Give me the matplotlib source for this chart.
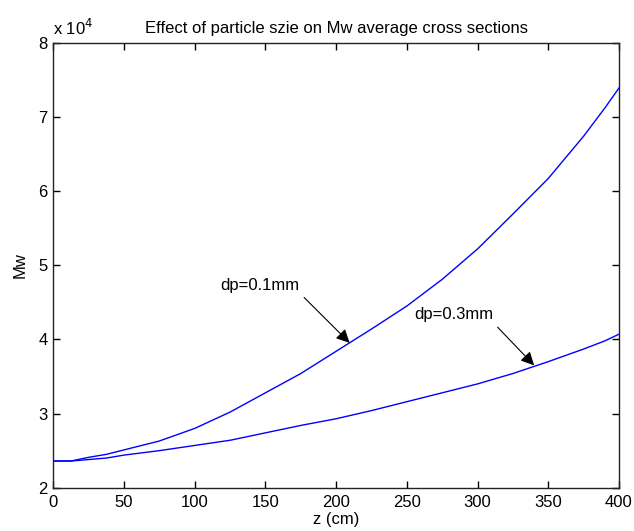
import matplotlib
matplotlib.use("Agg")
import matplotlib.pyplot as plt
from matplotlib.ticker import FuncFormatter

plt.rcParams['font.family'] = ['Liberation Sans', 'DejaVu Sans']

z_cm = [0, 12.5, 25, 37.5, 50, 75, 100, 125, 150, 175, 200, 225, 250, 275, 300, 325, 350, 375, 390, 400]
mw_dp01 = [23600, 23600, 24100, 24500, 25100, 26300, 28000, 30200, 32800, 35400, 38400, 41400,
           44500, 48100, 52200, 56900, 61700, 67400, 71200, 73900]
mw_dp03 = [23600, 23600, 23800, 24000, 24400, 25000, 25700, 26400, 27400, 28400, 29300, 30400,
           31600, 32800, 34000, 35400, 37000, 38700, 39800, 40700]

title = "Effect of particle szie on Mw average cross sections"
xlabel = "z (cm)"
ylabel = "Mw"
xticks = [0, 50, 100, 150, 200, 250, 300, 350, 400]
yticks = [20000, 30000, 40000, 50000, 60000, 70000, 80000]

fig = plt.figure(figsize=(6.34, 5.31), dpi=100)
ax = fig.add_axes([0.0841, 0.0815, 0.8922, 0.838])

ax.plot(z_cm, mw_dp01, color=(0, 0, 1), lw=1.0)
ax.plot(z_cm, mw_dp03, color=(0, 0, 1), lw=1.0)

ax.set_xlim(0, 400)
ax.set_ylim(20000, 80000)
ax.set_xticks(xticks)
ax.set_yticks(yticks)
ax.yaxis.set_major_formatter(FuncFormatter(lambda v, p: f"{v/1e4:g}"))
fs = 12
ax.tick_params(direction='in', length=5, width=1, top=True, right=True,
               labelsize=fs, colors='black')
ax.tick_params(axis='x', pad=5)
ax.tick_params(axis='y', pad=4)
for s in ax.spines.values():
    s.set_linewidth(1.0)
    s.set_color('#222222')

ax.set_title(title, fontsize=fs, pad=7)
ax.set_xlabel(xlabel, fontsize=fs, labelpad=2)
ax.set_ylabel(ylabel, fontsize=fs, labelpad=8)
ax.text(0.0, 1.01, r"x 10$^{4}$", transform=ax.transAxes, fontsize=fs,
        ha='left', va='bottom')

ax.annotate("dp=0.1mm", xy=(209.5, 39540), xytext=(174, 47300),
            fontsize=fs, ha='right', va='center',
            arrowprops=dict(arrowstyle='-|>', color='black', lw=0.8,
                            mutation_scale=20, shrinkA=2, shrinkB=0,
                            relpos=(1.0, 0.0)))
ax.annotate("dp=0.3mm", xy=(340, 36500), xytext=(255, 43300),
            fontsize=fs, ha='left', va='center',
            arrowprops=dict(arrowstyle='-|>', color='black', lw=0.8,
                            mutation_scale=20, shrinkA=2, shrinkB=0,
                            relpos=(1.0, 0.0)))

fig.savefig("out.png", dpi=100)
